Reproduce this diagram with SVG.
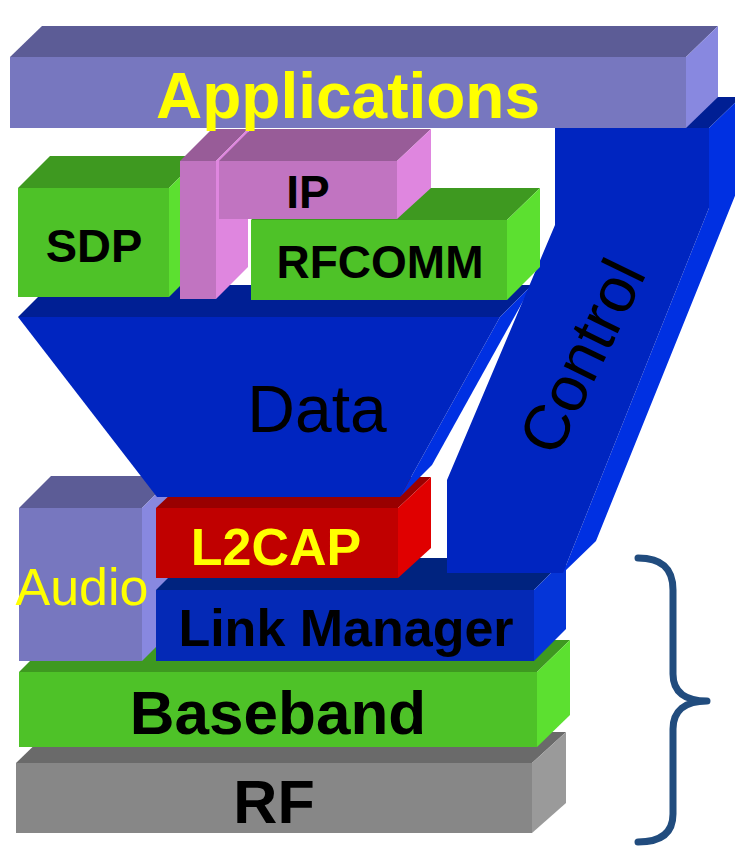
<svg xmlns="http://www.w3.org/2000/svg" width="735" height="847" viewBox="0 0 735 847">
  <style>
    text { font-family: "Liberation Sans", Arial, sans-serif; text-anchor: middle; }
    .b { font-weight: bold; }
    .yel { fill: #ffff00; }
    .blk { fill: #000000; }
    /* lavender */
    .lav-f { fill: #7777bf; } .lav-t { fill: #5c5c96; } .lav-r { fill: #8888e0; }
    /* blue */
    .blu-f { fill: #0025c0; } .blu-t { fill: #001f94; } .blu-r { fill: #0030e2; }
    .lm-f { fill: #0429b6; } .lm-t { fill: #00237f; } .lm-r { fill: #0535d8; }
    /* green */
    .grn-f { fill: #4ec228; } .grn-t { fill: #3e9920; } .grn-r { fill: #5ce030; }
    /* pink */
    .pnk-f { fill: #c174c1; } .pnk-t { fill: #985c98; } .pnk-r { fill: #df86df; }
    /* red */
    .red-f { fill: #c00000; } .red-t { fill: #990000; } .red-r { fill: #e00000; }
    /* grey */
    .gry-f { fill: #878787; } .gry-t { fill: #6a6a6a; } .gry-r { fill: #9a9a9a; }
    .brace { fill: none; stroke: #214c7e; stroke-width: 7; stroke-linecap: round; stroke-linejoin: round; }
  </style>

  <rect width="735" height="847" fill="#ffffff"/>

  <!-- RF layer -->
  <g id="rf">
    <polygon class="gry-t" points="16,763 48,732 566,732 532,763"/>
    <polygon class="gry-r" points="532,763 566,732 566,803 532,833"/>
    <rect class="gry-f" x="16" y="763" width="516" height="70"/>
    <text class="b blk" x="274" y="823" font-size="61">RF</text>
  </g>

  <!-- Baseband layer -->
  <g id="baseband">
    <polygon class="grn-t" points="19,672 51,640 570,640 537,672"/>
    <polygon class="grn-r" points="537,672 570,640 570,715 537,747"/>
    <rect class="grn-f" x="19" y="672" width="518" height="75"/>
    <text class="b blk" x="278" y="734" font-size="62">Baseband</text>
  </g>

  <!-- Audio block -->
  <g id="audio">
    <polygon class="lav-t" points="19,508 51,476 174,476 142,508"/>
    <polygon class="lav-r" points="142,508 174,476 174,629 142,661"/>
    <rect class="lav-f" x="19" y="508" width="123" height="153"/>
  </g>

  <!-- Link Manager layer -->
  <g id="link-manager">
    <polygon class="lm-t" points="156,590 188,558 566,558 534,590"/>
    <polygon class="lm-r" points="534,590 566,558 566,629 534,661"/>
    <rect class="lm-f" x="156" y="590" width="378" height="71"/>
    <text class="b blk" x="346" y="646" font-size="52">Link Manager</text>
  </g>

  <!-- L2CAP layer -->
  <g id="l2cap">
    <polygon class="red-t" points="156,508 189,477 431,477 398,508"/>
    <polygon class="red-r" points="398,508 431,477 431,548 398,578"/>
    <rect class="red-f" x="156" y="508" width="242" height="70"/>
    <text class="b yel" x="276" y="565" font-size="52">L2CAP</text>
  </g>

  <!-- Audio label drawn over the neighbouring blocks -->
  <g id="audio-label">
    <text class="yel" x="82" y="605" font-size="52">Audio</text>
  </g>

  <!-- Data funnel -->
  <g id="data">
    <polygon class="blu-t" points="18,317 50,285 532,285 500,317"/>
    <polygon class="blu-r" points="500,317 532,285 432,465 400,497"/>
    <polygon class="blu-f" points="18,317 500,317 400,497 157,497"/>
    <text class="blk" x="317" y="432" font-size="66">Data</text>
  </g>

  <!-- Control column -->
  <g id="control">
    <polygon class="blu-t" points="555,128 587,97 741,97 709,128"/>
    <polygon class="blu-r" points="709,128 741,97 743,176 596,541 563,573 709,208"/>
    <polygon class="blu-f" points="555,128 709,128 709,208 563,573 447,573 447,480 555,225"/>
    <text class="blk" font-size="64" transform="translate(581,356) rotate(-64)" x="0" y="23">Control</text>
  </g>

  <!-- SDP block -->
  <g id="sdp">
    <polygon class="grn-t" points="18,188 50,156 201,156 169,188"/>
    <polygon class="grn-r" points="169,188 201,156 201,265 169,297"/>
    <rect class="grn-f" x="18" y="188" width="151" height="109"/>
    <text class="b blk" x="94" y="262" font-size="47">SDP</text>
  </g>

  <!-- RFCOMM block -->
  <g id="rfcomm">
    <polygon class="grn-t" points="251,220 284,188 540,188 507,220"/>
    <polygon class="grn-r" points="507,220 540,188 540,267 507,300"/>
    <rect class="grn-f" x="251" y="220" width="256" height="80"/>
    <text class="b blk" x="380" y="278" font-size="46">RFCOMM</text>
  </g>

  <!-- IP block (L-shaped: upright post plus top bar) -->
  <g id="ip">
    <polygon class="pnk-t" points="180,161 212,129 248,129 216,161"/>
    <polygon class="pnk-r" points="216,161 248,129 248,267 216,299"/>
    <rect class="pnk-f" x="180" y="161" width="36" height="138"/>
    <polygon class="pnk-t" points="219,161 251,129 431,129 397,161"/>
    <polygon class="pnk-r" points="397,161 431,129 431,188 397,219"/>
    <rect class="pnk-f" x="219" y="161" width="178" height="58"/>
    <text class="b blk" x="308" y="208" font-size="46">IP</text>
  </g>

  <!-- Applications layer (on top so the descenders show over the IP block) -->
  <g id="applications">
    <polygon class="lav-t" points="10,57 42,26 718,26 686,57"/>
    <polygon class="lav-r" points="686,57 718,26 718,97 686,128"/>
    <rect class="lav-f" x="10" y="57" width="676" height="71"/>
    <text class="b yel" x="348" y="118" font-size="64">Applications</text>
  </g>

  <!-- Bracket grouping the lower layers -->
  <g id="connectors">
    <path class="brace" d="M 638,558 C 661,558 673,568 673,590 L 673,674 C 673,692 685,701 707,701 C 685,701 673,711 673,729 L 673,814 C 673,833 661,842 638,842"/>
  </g>
</svg>
